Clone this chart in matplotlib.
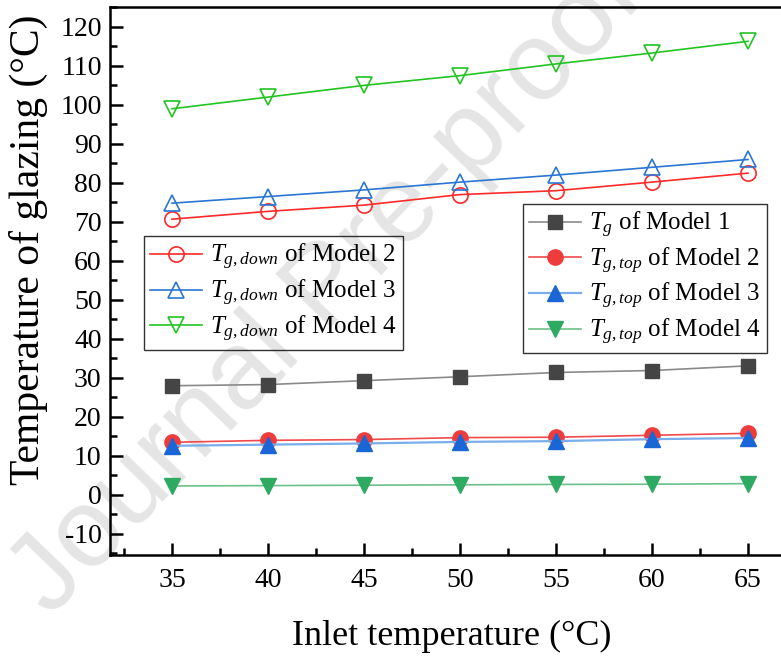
import matplotlib
matplotlib.use("Agg")
import matplotlib.pyplot as plt
from matplotlib.ticker import MultipleLocator

plt.rcParams["font.family"] = ["Liberation Serif", "DejaVu Serif"]
plt.rcParams["mathtext.fontset"] = "custom"
plt.rcParams["mathtext.rm"] = "Liberation Serif"
plt.rcParams["mathtext.it"] = "Liberation Serif:italic"
plt.rcParams["axes.unicode_minus"] = False

# inlet temperature (°C)
inlet = [35, 40, 45, 50, 55, 60, 65]

# glazing temperatures (°C)
tg_model1 = [28.0, 28.3, 29.3, 30.3, 31.4, 31.9, 33.1]
tg_top_model2 = [13.5, 14.0, 14.2, 14.7, 14.8, 15.3, 15.8]
tg_top_model3 = [12.6, 12.9, 13.2, 13.6, 13.8, 14.3, 14.6]
tg_top_model4 = [2.3, 2.4, 2.5, 2.6, 2.7, 2.75, 2.9]
tg_down_model2 = [70.7, 72.7, 74.3, 77.0, 78.0, 80.2, 82.5]
tg_down_model3 = [74.8, 76.5, 78.2, 80.2, 82.0, 84.0, 86.0]
tg_down_model4 = [99.0, 102.0, 105.0, 107.5, 110.5, 113.3, 116.3]

fig = plt.figure(figsize=(7.81, 6.58), dpi=100)
ax = fig.add_axes([0.1408, 0.1565, 0.8592, 0.8329])
ax.set_facecolor("none")

# watermark, behind the plot
fig.text(0.42, 0.56, "Journal Pre-proof", fontsize=80, family="Liberation Sans",
         color="#e5e5e5", rotation=46, ha="center", va="center", zorder=-1)

ms = 11
d2, = ax.plot(inlet, tg_down_model2, "-o", color="#ff2a2a", mfc="none", mec="#ff2a2a",
              ms=ms, lw=1.2, mew=1.2, label=r"$T_{g,down}$ of Model 2")
d3, = ax.plot(inlet, tg_down_model3, "-^", color="#2a76d2", mfc="none", mec="#2a76d2",
              ms=ms + 1, lw=1.2, mew=1.2, label=r"$T_{g,down}$ of Model 3")
d4, = ax.plot(inlet, tg_down_model4, "-v", color="#22c422", mfc="none", mec="#22c422",
              ms=ms + 1, lw=1.2, mew=1.2, label=r"$T_{g,down}$ of Model 4")

m1, = ax.plot(inlet, tg_model1, "-s", color="#8a8a8a", mfc="#454545", mec="#454545",
              ms=ms - 1, lw=1.2, label=r"$T_g$ of Model 1")
t2, = ax.plot(inlet, tg_top_model2, "-o", color="#f04a4a", mfc="#ee3b3b", mec="#ee3b3b",
              ms=ms, lw=1.2, label=r"$T_{g,top}$ of Model 2")
t3, = ax.plot(inlet, tg_top_model3, "-^", color="#7aaeea", mfc="#1a66d6", mec="#1a66d6",
              ms=ms + 1, lw=1.6, label=r"$T_{g,top}$ of Model 3")
t4, = ax.plot(inlet, tg_top_model4, "-v", color="#6cc08a", mfc="#2eaa62", mec="#2eaa62",
              ms=ms + 1, lw=1.2, label=r"$T_{g,top}$ of Model 4")

ax.set_xlim(31.77, 66.72)
ax.set_ylim(-15.4, 125.1)
ax.xaxis.set_major_locator(MultipleLocator(5))
ax.xaxis.set_minor_locator(MultipleLocator(2.5))
ax.yaxis.set_major_locator(MultipleLocator(10))
ax.yaxis.set_minor_locator(MultipleLocator(5))
ax.set_yticks(range(-10, 121, 10))
ax.tick_params(which="both", direction="in", top=False, right=False, labelsize=20, width=1.8)
ax.tick_params(which="major", length=9, pad=6)
ax.tick_params(which="minor", length=5)
ax.tick_params(axis="x", which="major", pad=9)
for side in ["left", "bottom", "top"]:
    ax.spines[side].set_linewidth(1.8)
ax.spines["right"].set_visible(False)

ax.set_xlabel("Inlet temperature (°C)", fontsize=26)
ax.xaxis.set_label_coords(0.51, -0.118)
ax.set_ylabel("Temperature of glazing (°C)", fontsize=30)
ax.yaxis.set_label_coords(-0.092, 0.557)

legend_kw = dict(fontsize=18, frameon=True, fancybox=False, edgecolor="black",
                 facecolor="none", handlelength=2.1, handletextpad=0.3,
                 borderpad=0.25, labelspacing=0.22, borderaxespad=0)
leg1 = ax.legend(handles=[d2, d3, d4], loc="upper left",
                 bbox_to_anchor=(0.05, 0.582), **legend_kw)
leg1.get_frame().set_linewidth(1.0)
ax.add_artist(leg1)
leg2 = ax.legend(handles=[m1, t2, t3, t4], loc="upper left",
                 bbox_to_anchor=(0.615, 0.641), **legend_kw)
leg2.get_frame().set_linewidth(1.0)

fig.savefig("out.png", dpi=100)
